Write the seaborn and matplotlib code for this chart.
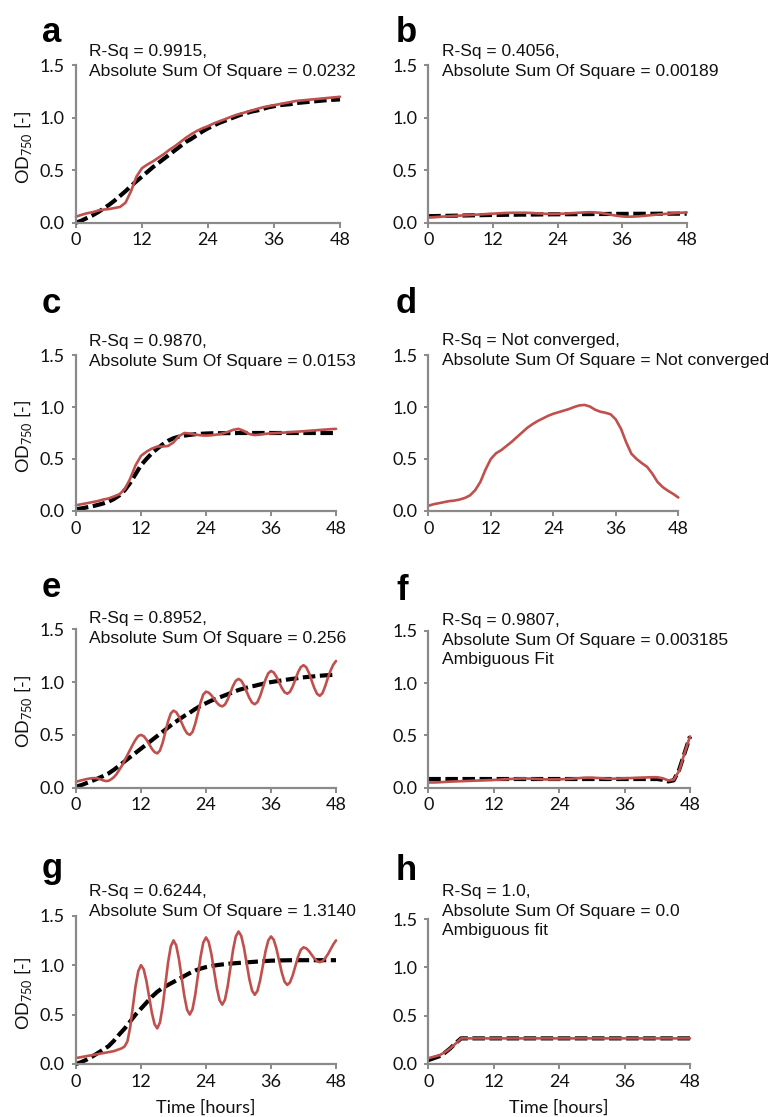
import matplotlib
matplotlib.use("Agg")
import matplotlib.pyplot as plt
import seaborn as sns
import numpy as np
import pandas as pd

# ---------------- data ----------------
hours = list(range(49))                      # hourly readings 0..48 h
half_hours = [i / 2 for i in range(97)]      # half-hourly readings 0..48 h (oscillating panels)

a_obs = [0.057, 0.075, 0.09, 0.10, 0.115, 0.125, 0.13, 0.14, 0.15, 0.19, 0.30, 0.44, 0.52, 0.555, 0.585,
         0.62, 0.655, 0.695, 0.73, 0.77, 0.81, 0.845, 0.875, 0.90, 0.92, 0.945, 0.965, 0.985, 1.005, 1.025,
         1.04, 1.055, 1.07, 1.085, 1.10, 1.11, 1.12, 1.13, 1.14, 1.15, 1.16, 1.165, 1.17, 1.175, 1.18,
         1.185, 1.19, 1.195, 1.20]
a_fit = [0.00, 0.02, 0.045, 0.07, 0.10, 0.135, 0.17, 0.21, 0.255, 0.30, 0.35, 0.395, 0.44, 0.485, 0.53,
         0.57, 0.61, 0.65, 0.69, 0.73, 0.77, 0.80, 0.835, 0.87, 0.90, 0.925, 0.95, 0.97, 0.99, 1.01,
         1.03, 1.045, 1.06, 1.07, 1.085, 1.10, 1.11, 1.12, 1.125, 1.13, 1.14, 1.145, 1.15, 1.155, 1.16,
         1.165, 1.17, 1.172, 1.175]

b_obs = [0.050, 0.053, 0.056, 0.059, 0.062, 0.065, 0.068, 0.071, 0.074, 0.077, 0.080, 0.083, 0.086, 0.089,
         0.092, 0.094, 0.095, 0.095, 0.095, 0.093, 0.090, 0.087, 0.084, 0.083, 0.084, 0.086, 0.089, 0.092,
         0.095, 0.098, 0.100, 0.098, 0.093, 0.085, 0.075, 0.066, 0.060, 0.057, 0.058, 0.061, 0.065, 0.070,
         0.075, 0.080, 0.084, 0.088, 0.092, 0.095, 0.098]
b_fit = [0.062, 0.063, 0.064, 0.065, 0.066, 0.067, 0.068, 0.069, 0.070, 0.071, 0.072, 0.073, 0.074, 0.074,
         0.075, 0.076, 0.076, 0.077, 0.077, 0.078, 0.078, 0.079, 0.079, 0.080, 0.080, 0.081, 0.081, 0.081,
         0.082, 0.082, 0.082, 0.083, 0.083, 0.083, 0.084, 0.084, 0.084, 0.084, 0.085, 0.085, 0.085, 0.085,
         0.085, 0.086, 0.086, 0.086, 0.086, 0.086, 0.086]

c_obs = [0.055, 0.065, 0.075, 0.085, 0.095, 0.11, 0.12, 0.14, 0.16, 0.21, 0.31, 0.44, 0.53, 0.57, 0.60,
         0.62, 0.62, 0.625, 0.66, 0.72, 0.75, 0.745, 0.735, 0.728, 0.725, 0.728, 0.735, 0.745, 0.76, 0.78,
         0.79, 0.77, 0.74, 0.73, 0.735, 0.742, 0.747, 0.75, 0.753, 0.756, 0.76, 0.763, 0.767, 0.771, 0.775,
         0.779, 0.783, 0.787, 0.79]
c_fit = [0.016, 0.025, 0.035, 0.045, 0.058, 0.072, 0.09, 0.115, 0.15, 0.20, 0.27, 0.355, 0.44, 0.50, 0.555,
         0.60, 0.64, 0.675, 0.70, 0.715, 0.725, 0.732, 0.738, 0.742, 0.745, 0.747, 0.748, 0.748, 0.749, 0.749,
         0.75, 0.75, 0.75, 0.75, 0.75, 0.75, 0.75, 0.75, 0.75, 0.75, 0.75, 0.75, 0.75, 0.75, 0.75,
         0.75, 0.75, 0.75, 0.75]

d_obs = [0.05, 0.065, 0.075, 0.085, 0.095, 0.10, 0.11, 0.125, 0.15, 0.20, 0.28, 0.40, 0.50, 0.555, 0.585,
         0.625, 0.665, 0.71, 0.755, 0.80, 0.835, 0.865, 0.89, 0.915, 0.935, 0.95, 0.965, 0.98, 1.00, 1.015,
         1.02, 1.005, 0.975, 0.955, 0.945, 0.93, 0.88, 0.79, 0.66, 0.55, 0.50, 0.46, 0.425, 0.36, 0.28,
         0.23, 0.195, 0.165, 0.13]

e_obs = [0.057, 0.063, 0.07, 0.076, 0.082, 0.087, 0.09, 0.091, 0.088, 0.08, 0.07, 0.063, 0.065, 0.08,
         0.10, 0.13, 0.17, 0.21, 0.26, 0.31, 0.36, 0.41, 0.455, 0.49, 0.50,
         0.488, 0.456, 0.413, 0.369, 0.337, 0.325,
         0.352, 0.426, 0.528, 0.629, 0.703, 0.73,
         0.715, 0.673, 0.615, 0.558, 0.515, 0.50,
         0.527, 0.603, 0.705, 0.808, 0.883, 0.91,
         0.90, 0.875, 0.84, 0.805, 0.78, 0.77,
         0.787, 0.835, 0.90, 0.965, 1.013, 1.03,
         1.014, 0.97, 0.91, 0.85, 0.806, 0.79,
         0.811, 0.869, 0.948, 1.026, 1.084, 1.105,
         1.091, 1.051, 0.998, 0.944, 0.904, 0.89,
         0.908, 0.958, 1.025, 1.093, 1.142, 1.16,
         1.141, 1.088, 1.015, 0.943, 0.889, 0.87,
         0.895, 0.96, 1.04, 1.11, 1.165, 1.20]
e_fit = [0.01, 0.025, 0.045, 0.065, 0.087, 0.11, 0.135, 0.17, 0.21, 0.25, 0.29, 0.33, 0.37, 0.41, 0.45,
         0.49, 0.53, 0.57, 0.61, 0.645, 0.68, 0.71, 0.745, 0.775, 0.80, 0.825, 0.845, 0.865, 0.885, 0.905,
         0.925, 0.94, 0.955, 0.965, 0.978, 0.99, 1.0, 1.008, 1.016, 1.024, 1.031, 1.038, 1.045, 1.05, 1.055,
         1.06, 1.064, 1.067, 1.07]

f_obs = [0.050, 0.050, 0.052, 0.055, 0.058, 0.060, 0.062, 0.064, 0.066, 0.068, 0.070, 0.072, 0.074, 0.077,
         0.080, 0.083, 0.086, 0.088, 0.088, 0.086, 0.083, 0.080, 0.079, 0.079, 0.080, 0.082, 0.085, 0.089,
         0.093, 0.096, 0.096, 0.093, 0.089, 0.086, 0.086, 0.088, 0.090, 0.092, 0.094, 0.096, 0.098, 0.100,
         0.100, 0.090, 0.070, 0.075, 0.16, 0.33, 0.49]
f_fit = [0.083] * 43 + [0.075, 0.06, 0.07, 0.17, 0.33, 0.49]

g_obs = [0.06, 0.065, 0.07, 0.075, 0.08, 0.085, 0.09, 0.095, 0.10, 0.105, 0.11, 0.115, 0.12, 0.125,
         0.13, 0.14, 0.15, 0.16, 0.18, 0.23, 0.37, 0.58, 0.79, 0.94, 1.00,
         0.957, 0.84, 0.68, 0.52, 0.403, 0.36,
         0.42, 0.583, 0.805, 1.028, 1.19, 1.25,
         1.20, 1.063, 0.875, 0.688, 0.55, 0.50,
         0.552, 0.695, 0.89, 1.085, 1.228, 1.28,
         1.234, 1.11, 0.94, 0.77, 0.646, 0.60,
         0.65, 0.785, 0.97, 1.155, 1.29, 1.34,
         1.297, 1.18, 1.02, 0.86, 0.743, 0.70,
         0.74, 0.848, 0.995, 1.143, 1.25, 1.29,
         1.257, 1.168, 1.045, 0.923, 0.833, 0.80,
         0.825, 0.895, 0.99, 1.085, 1.155, 1.18,
         1.17, 1.143, 1.105, 1.068, 1.04, 1.03,
         1.04, 1.07, 1.11, 1.16, 1.21, 1.25]
g_fit = [0.0, 0.02, 0.045, 0.075, 0.11, 0.145, 0.18, 0.235, 0.30, 0.36, 0.43, 0.50, 0.56, 0.62, 0.68,
         0.73, 0.77, 0.80, 0.83, 0.86, 0.89, 0.92, 0.945, 0.965, 0.98, 0.99, 1.0, 1.007, 1.013, 1.018,
         1.022, 1.026, 1.03, 1.034, 1.038, 1.042, 1.045, 1.047, 1.048, 1.049, 1.05, 1.05, 1.05, 1.05, 1.05,
         1.05, 1.05, 1.05, 1.05]

h_obs = [0.06, 0.075, 0.09, 0.12, 0.16, 0.21, 0.265] + [0.265] * 42
h_fit = [0.04, 0.06, 0.08, 0.115, 0.16, 0.215, 0.265] + [0.265] * 42

panel_letters = ["a", "b", "c", "d", "e", "f", "g", "h"]
panel_notes = [
    "R-Sq = 0.9915,\nAbsolute Sum Of Square = 0.0232",
    "R-Sq = 0.4056,\nAbsolute Sum Of Square = 0.00189",
    "R-Sq = 0.9870,\nAbsolute Sum Of Square = 0.0153",
    "R-Sq = Not converged,\nAbsolute Sum Of Square = Not converged",
    "R-Sq = 0.8952,\nAbsolute Sum Of Square = 0.256",
    "R-Sq = 0.9807,\nAbsolute Sum Of Square = 0.003185\nAmbiguous Fit",
    "R-Sq = 0.6244,\nAbsolute Sum Of Square = 1.3140",
    "R-Sq = 1.0,\nAbsolute Sum Of Square = 0.0\nAmbiguous fit",
]
observed = [a_obs, b_obs, c_obs, d_obs, e_obs, f_obs, g_obs, h_obs]
obs_times = [hours, hours, hours, hours, half_hours, hours, half_hours, hours]
fitted = [a_fit, b_fit, c_fit, None, e_fit, f_fit, g_fit, h_fit]
x_ticks = [0, 12, 24, 36, 48]
y_ticks = [0.0, 0.5, 1.0, 1.5]
y_tick_labels = ["0.0", "0.5", "1.0", "1.5"]
y_label = "OD$_{\\mathregular{750}}$ [-]"
x_label = "Time [hours]"

# ---------------- layout (pixels) ----------------
W, H = 773, 1117
boxes = [
    (76, 340, 65.3, 222.7), (428.3, 686.7, 65.3, 222.7),
    (76, 336, 355, 511), (428.3, 678.3, 355, 511),
    (76, 336, 629.3, 787.7), (428.3, 690, 630.7, 787.7),
    (76, 336, 915.7, 1064), (428.3, 690, 919, 1064),
]
note_pos = [(89, 44), (441.7, 44), (89, 334), (441.7, 333), (89, 611), (441.7, 613), (89, 884), (441.7, 884)]
letter_pos = [(42, 42), (396, 42), (42, 313), (396, 313), (42, 597), (396, 600), (42, 878), (396, 880)]

sns.set_theme(style="white")
plt.rcParams["font.family"] = ["Lato", "DejaVu Sans"]
plt.rcParams["mathtext.fontset"] = "dejavusans"

RED = "#c0504d"
GRAY = "#8a8a8a"

fig = plt.figure(figsize=(W / 100, H / 100), dpi=100)
fig.patch.set_facecolor("white")

for i in range(8):
    l, r, t, b = boxes[i]
    ax = fig.add_axes([l / W, 1 - b / H, (r - l) / W, (b - t) / H])
    ax.set_facecolor("white")
    if fitted[i] is not None:
        sns.lineplot(x=hours, y=fitted[i], ax=ax, color="black", lw=3.0, clip_on=False)
        ax.lines[-1].set_dashes([3.0, 1.1])
        ax.lines[-1].set_dash_capstyle("butt")
    sns.lineplot(x=obs_times[i], y=observed[i], ax=ax, color=RED, lw=1.9, clip_on=False)
    ax.set_xlim(0, 48)
    ax.set_ylim(0, 1.5)
    ax.set_xticks(x_ticks)
    ax.set_xticklabels([str(v) for v in x_ticks])
    ax.set_yticks(y_ticks)
    ax.set_yticklabels(y_tick_labels)
    for s in ["top", "right"]:
        ax.spines[s].set_visible(False)
    for s in ["left", "bottom"]:
        ax.spines[s].set_color(GRAY)
        ax.spines[s].set_linewidth(1.6)
    ax.tick_params(axis="x", direction="out", length=3.5, width=1.4, color=GRAY,
                   labelsize=13, labelcolor="#111111", pad=3.5, bottom=True)
    ax.tick_params(axis="y", direction="out", length=3, width=1.4, color=GRAY,
                   labelsize=13, labelcolor="#111111", pad=5, left=True)
    ax.set_xlabel("")
    ax.set_ylabel("")

    nx, ny = note_pos[i]
    fig.text(nx / W, 1 - ny / H, panel_notes[i], ha="left", va="top",
             fontsize=12.6, family="Liberation Sans", color="#111111", linespacing=1.38)
    lx, ly = letter_pos[i]
    fig.text(lx / W, 1 - ly / H, panel_letters[i], ha="left", va="baseline",
             fontsize=25, fontweight="bold", family="Liberation Sans", color="black")
    if i % 2 == 0:
        fig.text(23.5 / W, 1 - ((t + b) / 2 + 3) / H, y_label, rotation=90,
                 ha="center", va="center", fontsize=13, color="#111111")
    if i >= 6:
        fig.text(((l + r) / 2) / W, 1 - 1100 / H, x_label, ha="center", va="top",
                 fontsize=13, color="#111111")

fig.savefig("out.png", dpi=100, facecolor="white")
